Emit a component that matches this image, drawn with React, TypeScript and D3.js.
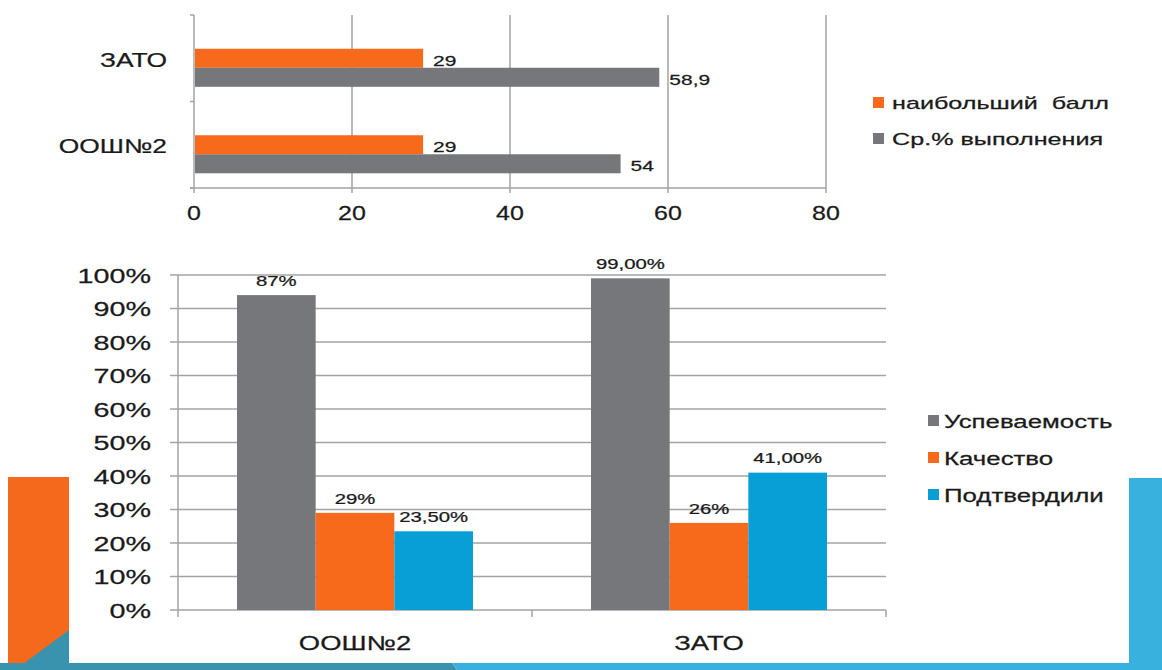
import * as d3 from "d3"
import React from "react"

// top chart: horizontal bars
const topCats = ["ЗАТО", "ООШ№2"]
const topSeries = ["наибольший  балл", "Ср.% выполнения"]
const topBest = [29, 29]
const topAvg = [58.9, 54]
const topBestLabels = ["29", "29"]
const topAvgLabels = ["58,9", "54"]
const topTicks = [0, 20, 40, 60, 80]

// bottom chart: grouped columns
const botCats = ["ООШ№2", "ЗАТО"]
const botSeries = ["Успеваемость", "Качество", "Подтвердили"]
const uspevaemost = [0.94, 0.99]
const kachestvo = [0.29, 0.26]
const podtverdili = [0.235, 0.41]
const uspLabels = ["87%", "99,00%"]
const kachLabels = ["29%", "26%"]
const podLabels = ["23,50%", "41,00%"]
const botTicks = [0, 0.1, 0.2, 0.3, 0.4, 0.5, 0.6, 0.7, 0.8, 0.9, 1]

const ORANGE = "#f76a1c"
const GRAY = "#76777b"
const BLUE = "#089fd6"
const GRID = "#a3a3a3"
const FONT = "'Liberation Sans', Arial, sans-serif"

// text in the picture is stretched horizontally
const stretchText = (g: any, x: number, y: number, text: string, {
  size = 18, anchor = "middle", sx = 1.25, fill = "#1a1a1a"
}: any = {}) => {
  g.append("text")
    .attr("transform", `translate(${x},${y}) scale(${sx},1)`)
    .attr("text-anchor", anchor)
    .attr("dominant-baseline", "central")
    .attr("font-family", FONT)
    .attr("font-size", size)
    .attr("fill", fill)
    .attr("stroke", fill)
    .attr("stroke-width", 0.25)
    .style("white-space", "pre")
    .text(text)
}

const drawChart = () => {
  const svg = d3.select("#chart")
  svg.selectAll("*").remove()

  // slide decoration
  const deco = svg.append("g")
  deco.append("rect").attr("x", 8).attr("y", 477).attr("width", 61).attr("height", 193).attr("fill", "#f5691c")
  deco.append("path").attr("d", "M69,630 L15,670 L69,670 Z").attr("fill", "#3993ae")
  deco.append("rect").attr("x", 1129).attr("y", 478).attr("width", 33).attr("height", 192).attr("fill", "#39b1de")
  deco.append("path").attr("d", "M0,663 L452,663 L457,670 L0,670 Z").attr("fill", "#3993ae")
  deco.append("path").attr("d", "M452,663 L1162,663 L1162,670 L457,670 Z").attr("fill", "#39b1de")

  // ---------- top chart ----------
  const top = svg.append("g")
  const x = d3.scaleLinear([0, 80], [194, 826])
  const y = d3.scaleBand(topCats, [15, 188])
  const bw = y.bandwidth()
  const yInner = d3.scaleBand(topSeries, [bw * 0.39, bw * 0.83])

  top.append("g")
    .selectAll("line")
    .data(topTicks.slice(1))
    .join("line")
    .attr("x1", (d: any) => x(d)).attr("x2", (d: any) => x(d))
    .attr("y1", 15).attr("y2", 193)
    .attr("stroke", GRID).attr("stroke-width", 1.5)

  // y axis
  top.append("line").attr("x1", x(0)).attr("x2", x(0)).attr("y1", 15).attr("y2", 193)
    .attr("stroke", GRID).attr("stroke-width", 1.5)
  top.append("g")
    .selectAll("line")
    .data([15, ...topCats.map((c) => (y(c) as number) + bw)])
    .join("line")
    .attr("x1", x(0) - 4).attr("x2", x(0))
    .attr("y1", (d: any) => d).attr("y2", (d: any) => d)
    .attr("stroke", GRID).attr("stroke-width", 1.5)
  // x axis
  top.append("line").attr("x1", x(0) - 4).attr("x2", x(80)).attr("y1", 188).attr("y2", 188)
    .attr("stroke", GRID).attr("stroke-width", 1.5)

  topTicks.forEach((t) => stretchText(top, x(t), 213, String(t), { size: 20, sx: 1.25 }))
  topCats.forEach((c) => stretchText(top, 167, (y(c) as number) + bw * 0.52, c, { size: 20, anchor: "end", sx: 1.32 }))

  const topValues = [topBest, topAvg]
  const topLabels = [topBestLabels, topAvgLabels]
  const topColors = [ORANGE, GRAY]
  topSeries.forEach((s, si) => {
    top.append("g")
      .attr("fill", topColors[si])
      .selectAll("rect")
      .data(topCats)
      .join("rect")
      .attr("x", x(0) + 1)
      .attr("y", (c: any) => (y(c) as number) + (yInner(s) as number))
      .attr("width", (c: any, i: number) => x(topValues[si][i]) - x(0) - 1)
      .attr("height", yInner.bandwidth())
    topCats.forEach((c, i) => {
      stretchText(top, x(topValues[si][i]) + 10, (y(c) as number) + (yInner(s) as number) + yInner.bandwidth() / 2 + 2,
        topLabels[si][i], { size: 15, anchor: "start", sx: 1.4 })
    })
  })

  // top legend
  topSeries.forEach((s, si) => {
    const ly = 102 + si * 36
    top.append("rect").attr("x", 873).attr("y", ly - 5).attr("width", 11).attr("height", 11).attr("fill", topColors[si])
    stretchText(top, 892, ly + 1, s, { size: 17, anchor: "start", sx: 1.48 })
  })

  // ---------- bottom chart ----------
  const bot = svg.append("g")
  const yb = d3.scaleLinear([0, 1], [610, 275])
  const x0 = d3.scaleBand(botCats, [178, 886]).paddingInner(1 / 3).paddingOuter(1 / 6)
  const x1 = d3.scaleBand(botSeries, [0, x0.bandwidth()])

  bot.append("g")
    .selectAll("line")
    .data(botTicks)
    .join("line")
    .attr("x1", 170).attr("x2", 886)
    .attr("y1", (d: any) => yb(d)).attr("y2", (d: any) => yb(d))
    .attr("stroke", GRID).attr("stroke-width", 1.5)
  bot.append("line").attr("x1", 178).attr("x2", 178).attr("y1", yb(1)).attr("y2", 617)
    .attr("stroke", GRID).attr("stroke-width", 1.5)
  bot.append("g")
    .selectAll("line")
    .data([1, 2])
    .join("line")
    .attr("x1", (d: any) => 178 + x0.step() * d).attr("x2", (d: any) => 178 + x0.step() * d)
    .attr("y1", 610).attr("y2", 617)
    .attr("stroke", GRID).attr("stroke-width", 1.5)

  botTicks.forEach((t) => stretchText(bot, 151, yb(t), `${Math.round(t * 100)}%`, { size: 21, anchor: "end", sx: 1.37 }))
  botCats.forEach((c) => stretchText(bot, (x0(c) as number) + x0.bandwidth() / 2, 643, c, { size: 20, sx: 1.37 }))

  const botValues = [uspevaemost, kachestvo, podtverdili]
  const botLabels = [uspLabels, kachLabels, podLabels]
  const botColors = [GRAY, ORANGE, BLUE]
  botSeries.forEach((s, si) => {
    bot.append("g")
      .attr("fill", botColors[si])
      .selectAll("rect")
      .data(botCats)
      .join("rect")
      .attr("x", (c: any) => (x0(c) as number) + (x1(s) as number))
      .attr("y", (c: any, i: number) => yb(botValues[si][i]))
      .attr("width", x1.bandwidth())
      .attr("height", (c: any, i: number) => yb(0) - yb(botValues[si][i]))
    botCats.forEach((c, i) => {
      stretchText(bot, (x0(c) as number) + (x1(s) as number) + x1.bandwidth() / 2, yb(botValues[si][i]) - 14,
        botLabels[si][i], { size: 14, sx: 1.45 })
    })
  })

  // bottom legend
  botSeries.forEach((s, si) => {
    const ly = 420 + si * 37
    bot.append("rect").attr("x", 928).attr("y", ly - 5).attr("width", 11).attr("height", 11).attr("fill", botColors[si])
    stretchText(bot, 944, ly + 1, s, { size: 19, anchor: "start", sx: 1.36 })
  })
}

const App = () => {
  React.useEffect(() => {
    drawChart()
  }, [])

  return (
    <svg id="chart" width={1162} height={670}
      style={{ position: "absolute", left: 0, top: 0, background: "#fff" }} />
  )
}

export default App
